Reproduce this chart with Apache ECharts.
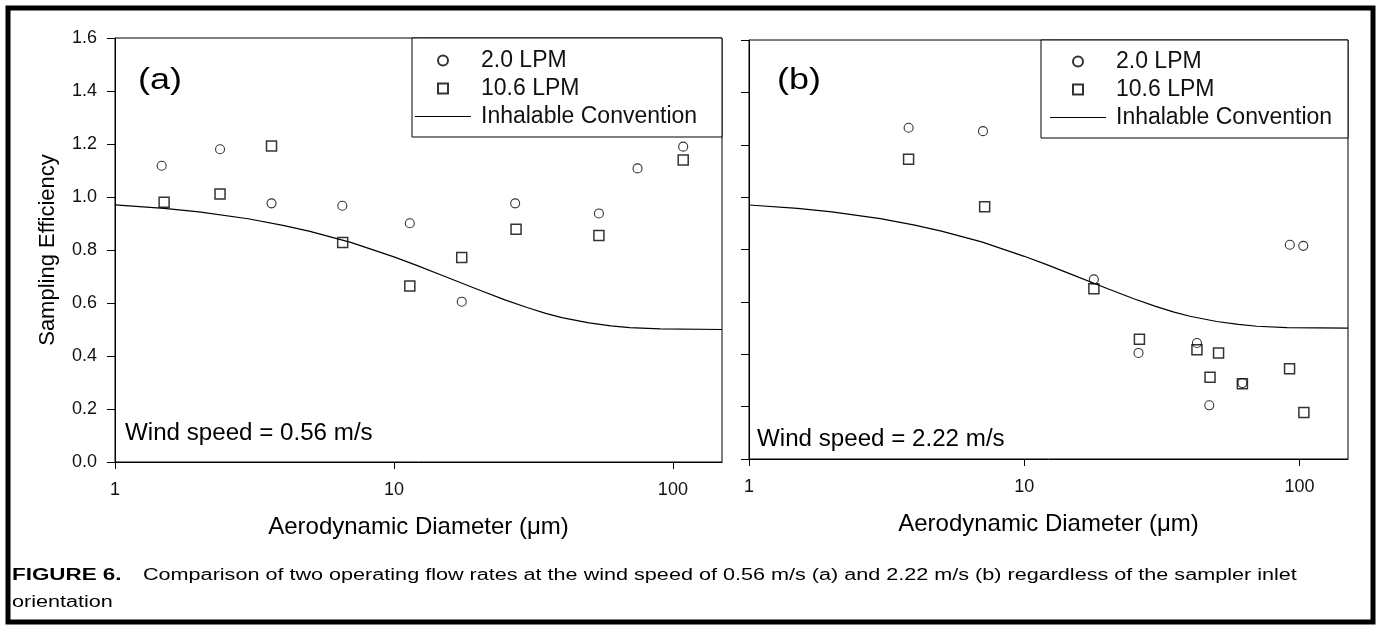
<!DOCTYPE html>
<html>
<head>
<meta charset="utf-8">
<script src="https://cdn.jsdelivr.net/npm/echarts@6.0.0/dist/echarts.min.js"></script>
<style>
  html, body { margin: 0; padding: 0; background: #fff; }
  #chart { width: 1377px; height: 629px; }
</style>
</head>
<body>
<div id="chart"></div>
<script>
// tick values / labels
const xTicks = [1, 10, 100]
const yTicks = [0, 0.2, 0.4, 0.6, 0.8, 1.0, 1.2, 1.4, 1.6]

// panel (a), wind speed 0.56 m/s
const aDiam20 = [1.47, 2.38, 3.64, 6.53, 11.4, 17.5, 27.2, 54.3, 74.7, 108.9]
const aEff20 = [1.118, 1.18, 0.976, 0.967, 0.901, 0.605, 0.976, 0.938, 1.108, 1.19]
const aDiam106 = [1.50, 2.38, 3.64, 6.55, 11.4, 17.5, 27.4, 54.3, 108.9]
const aEff106 = [0.98, 1.011, 1.192, 0.828, 0.664, 0.772, 0.878, 0.855, 1.14]

// panel (b), wind speed 2.22 m/s
const bDiam20 = [3.80, 7.08, 17.9, 26.0, 42.4, 47.0, 62.0, 92.2, 103.2]
const bEff20 = [1.265, 1.252, 0.686, 0.405, 0.443, 0.205, 0.29, 0.818, 0.814]
const bDiam106 = [3.80, 7.18, 17.9, 26.2, 42.4, 47.3, 50.8, 62.0, 92.0, 103.7]
const bEff106 = [1.145, 0.963, 0.65, 0.457, 0.417, 0.312, 0.405, 0.287, 0.345, 0.178]

// inhalable convention curve
const convDiam = [1, 1.5, 2, 3, 4, 5, 7, 10, 12, 15, 20, 25, 30, 35, 40, 50, 60, 70, 90, 150]
const convEff = [0.97, 0.957, 0.944, 0.918, 0.893, 0.870, 0.829, 0.774, 0.743, 0.703, 0.651, 0.612, 0.583, 0.561, 0.545, 0.525, 0.514, 0.507, 0.502, 0.50]

const zip = (xs, ys) => xs.map((x, i) => [x, ys[i]])

const FONT = 'Liberation Sans, Arial, sans-serif'

const chart = echarts.init(document.getElementById('chart'))

const xAxisFor = (gridIndex) => ({
  type: 'log',
  logBase: 10,
  gridIndex,
  min: 1,
  max: 150,
  axisLine: { lineStyle: { color: '#000', width: 1 } },
  axisTick: { customValues: xTicks, length: 7, lineStyle: { color: '#000' } },
  axisLabel: {
    customValues: xTicks,
    formatter: v => String(Math.round(v)),
    margin: 19,
    fontSize: 18,
    fontFamily: FONT,
    color: '#111'
  },
  minorTick: { show: false },
  splitLine: { show: false },
  name: 'Aerodynamic Diameter (\u03bcm)',
  nameLocation: 'middle',
  nameGap: 53,
  nameTextStyle: { fontSize: 24, fontFamily: FONT, color: '#000' }
})

const yAxisFor = (gridIndex, showLabels) => ({
  type: 'value',
  gridIndex,
  min: 0,
  max: 1.6,
  interval: 0.2,
  axisLine: { show: true, lineStyle: { color: '#000', width: 1 } },
  axisTick: { show: true, length: 8, lineStyle: { color: '#000' } },
  axisLabel: {
    show: showLabels,
    formatter: v => v.toFixed(1),
    margin: 18,
    fontSize: 18,
    fontFamily: FONT,
    color: '#111'
  },
  splitLine: { show: false },
  name: showLabels ? 'Sampling Efficiency' : '',
  nameLocation: 'middle',
  nameGap: 56,
  nameTextStyle: { fontSize: 22, fontFamily: FONT, color: '#000' }
})

const scatterSeries = (name, data, idx) => {
  const isCircle = name === '2.0 LPM'
  return {
    name,
    type: 'scatter',
    xAxisIndex: idx,
    yAxisIndex: idx,
    data,
    symbol: isCircle ? 'circle' : 'rect',
    symbolSize: isCircle ? 9 : 10,
    itemStyle: {
      color: 'rgba(255,255,255,0)',
      borderColor: '#000',
      borderWidth: isCircle ? 1.1 : 1.5
    },
    z: 3
  }
}

const curveSeries = (idx) => ({
  name: 'Inhalable Convention',
  type: 'line',
  xAxisIndex: idx,
  yAxisIndex: idx,
  data: zip(convDiam, convEff),
  symbol: 'none',
  smooth: false,
  lineStyle: { color: '#000', width: 1.2 },
  itemStyle: { color: '#000' },
  z: 2
})

const legendFor = (left, top) => ({
  data: [
    { name: '2.0 LPM' },
    { name: '10.6 LPM', icon: 'path://M0,0L10,0L10,10L0,10Z' },
    { name: 'Inhalable Convention', icon: 'path://M0,0L56,0L56,1.2L0,1.2Z' }
  ],
  orient: 'vertical',
  left,
  top,
  padding: 0,
  itemWidth: 56,
  itemHeight: 10,
  itemGap: 5,
  selectedMode: false,
  textStyle: {
    fontSize: 23,
    fontFamily: FONT,
    color: '#111',
    lineHeight: 23,
    padding: [0, 0, 0, 5]
  },
  z: 10
})

const textEl = (text, left, top, size, sx, weight) => ({
  type: 'text',
  left,
  top,
  z: 20,
  scaleX: sx,
  style: {
    text,
    fontSize: size,
    fontFamily: FONT,
    fontWeight: weight || 'normal',
    fill: '#000'
  }
})

const option = {
  animation: false,
  backgroundColor: '#fff',
  grid: [
    { left: 115, top: 38, width: 607, height: 424, show: true, borderColor: '#000', borderWidth: 1 },
    { left: 749, top: 40, width: 599, height: 419, show: true, borderColor: '#000', borderWidth: 1 }
  ],
  xAxis: [xAxisFor(0), xAxisFor(1)],
  yAxis: [yAxisFor(0, true), yAxisFor(1, false)],
  legend: [legendFor(415, 49), legendFor(1050, 50)],
  series: [
    scatterSeries('2.0 LPM', zip(aDiam20, aEff20), 0),
    scatterSeries('10.6 LPM', zip(aDiam106, aEff106), 0),
    curveSeries(0),
    scatterSeries('2.0 LPM', zip(bDiam20, bEff20), 1),
    scatterSeries('10.6 LPM', zip(bDiam106, bEff106), 1),
    curveSeries(1)
  ],
  graphic: [
    // outer figure frame
    {
      type: 'rect',
      shape: { x: 8, y: 8, width: 1365, height: 614 },
      style: { fill: 'none', stroke: '#000', lineWidth: 5 },
      z: 1
    },
    // legend boxes
    {
      type: 'rect',
      shape: { x: 412, y: 38, width: 310, height: 99 },
      style: { fill: '#fff', stroke: '#000', lineWidth: 1 },
      z: 5
    },
    {
      type: 'rect',
      shape: { x: 1041, y: 40, width: 307, height: 98 },
      style: { fill: '#fff', stroke: '#000', lineWidth: 1 },
      z: 5
    },
    textEl('(a)', 138, 66, 30, 1.2),
    textEl('(b)', 777, 66, 30, 1.2),
    textEl('Wind speed = 0.56 m/s', 125, 422, 23, 1.05),
    textEl('Wind speed = 2.22 m/s', 757, 428, 23, 1.05),
    textEl('FIGURE 6.', 12, 568, 16, 1.4, 'bold'),
    textEl('Comparison of two operating flow rates at the wind speed of 0.56 m/s (a) and 2.22 m/s (b) regardless of the sampler inlet', 143, 568, 16, 1.35),
    textEl('orientation', 12, 595, 16, 1.35)
  ]
}

chart.setOption(option)
</script>
</body>
</html>
